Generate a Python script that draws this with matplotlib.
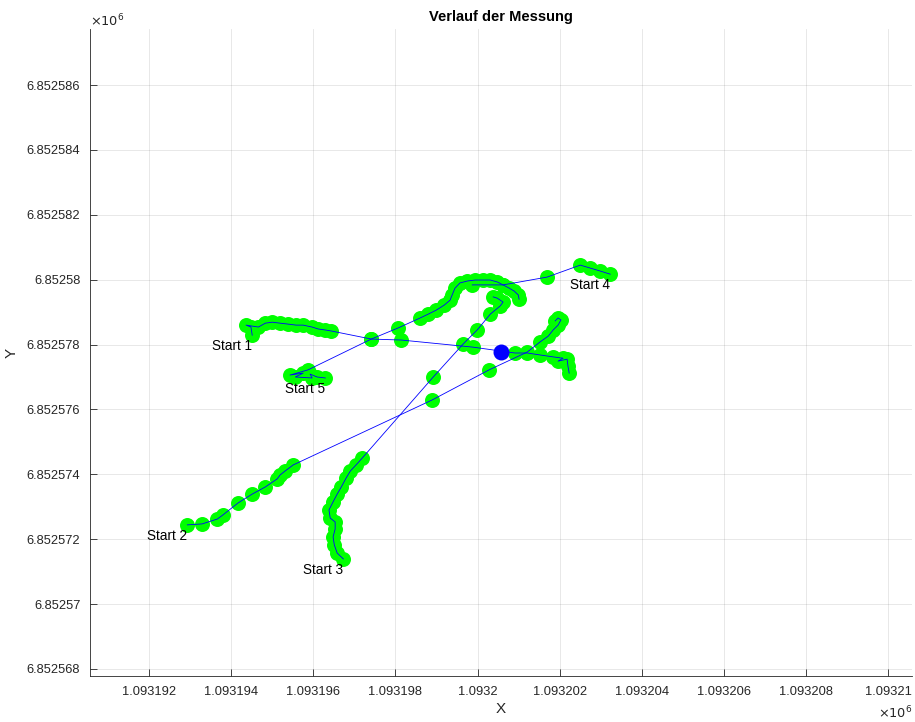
import numpy as np
import matplotlib.pyplot as plt
from matplotlib.ticker import FuncFormatter

plt.rcParams['font.family'] = ['Liberation Sans', 'DejaVu Sans']

# Bezugspunkt der lokalen Koordinaten (Meter)
X0 = 1093190.0
Y0 = 6852560.0

# Messfahrten, Koordinaten relativ zum Bezugspunkt in Metern
track1_x = [4.51, 4.48, 4.36, 4.66, 4.83, 5.00, 5.19, 5.39, 5.58, 5.75, 5.97, 6.12, 6.29,
            6.43, 7.41, 8.14, 9.89, 10.91, 11.21, 11.52, 11.84, 12.08, 11.96, 12.18, 12.20, 12.23]
track1_y = [18.29, 18.54, 18.60, 18.54, 18.66, 18.69, 18.66, 18.63, 18.60, 18.60, 18.54, 18.48, 18.45,
            18.42, 18.17, 18.14, 17.92, 17.74, 17.74, 17.68, 17.62, 17.58, 17.49, 17.55, 17.34, 17.12]

track2_x = [2.93, 3.29, 3.66, 3.80, 4.17, 4.51, 4.83, 5.12, 5.19, 5.31, 5.51, 8.89, 10.28,
            11.21, 11.52, 11.72, 11.84, 11.96, 12.03, 11.96, 11.89]
track2_y = [12.44, 12.47, 12.62, 12.75, 13.12, 13.39, 13.61, 13.86, 13.98, 14.10, 14.29, 16.29, 17.22,
            17.77, 18.08, 18.26, 18.45, 18.60, 18.76, 18.82, 18.73]

track3_x = [6.73, 6.58, 6.51, 6.48, 6.53, 6.53, 6.41, 6.38, 6.48, 6.58, 6.68, 6.80, 6.90, 7.04,
            7.19, 8.92, 9.65, 9.99, 10.31, 10.55, 10.62, 10.48, 10.38]
track3_y = [11.39, 11.57, 11.82, 12.07, 12.31, 12.53, 12.65, 12.90, 13.15, 13.39, 13.61, 13.89, 14.10, 14.29,
            14.50, 17.00, 18.02, 18.45, 18.94, 19.19, 19.31, 19.43, 19.47]

track4_x = [13.23, 12.98, 12.74, 12.50, 11.69, 10.62, 9.87]
track4_y = [20.17, 20.27, 20.36, 20.45, 20.08, 19.84, 19.84]

track5_x = [6.29, 6.09, 5.92, 5.97, 5.56, 5.75, 5.43, 5.87, 7.41, 8.06, 8.60, 8.80, 8.99, 9.19,
            9.33, 9.38, 9.45, 9.57, 9.75, 9.94, 10.13, 10.31, 10.48, 10.62, 10.77, 10.89, 10.99, 11.01]
track5_y = [16.97, 17.00, 17.09, 16.97, 17.00, 17.12, 17.06, 17.22, 18.17, 18.51, 18.82, 18.94, 19.06, 19.22,
            19.37, 19.53, 19.74, 19.90, 19.96, 19.99, 19.99, 19.99, 19.93, 19.84, 19.74, 19.65, 19.53, 19.40]

# Mittelwert aller Messungen
mean_x = 10.57
mean_y = 17.77

labels = ['Start 1', 'Start 2', 'Start 3', 'Start 4', 'Start 5']
tracks_x = [track1_x, track2_x, track3_x, track4_x, track5_x]
tracks_y = [track1_y, track2_y, track3_y, track4_y, track5_y]

fig = plt.figure(figsize=(9.15, 7.22), dpi=100)
ax = fig.add_axes([0.0984, 0.0637, 0.8983, 0.8961])

for tx, ty, name in zip(tracks_x, tracks_y, labels):
    x = X0 + np.array(tx)
    y = Y0 + np.array(ty)
    ax.plot(x, y, 'o', color=(0, 1, 0), markersize=10.8, markeredgewidth=0, zorder=2)
    ax.plot(x, y, '-', color='b', linewidth=0.6, zorder=3)
    ax.annotate(name, (x[0], y[0]), xytext=(0, -3), textcoords='offset points',
                ha='right', va='top', fontsize=9.8, color='k', zorder=5)

ax.plot(X0 + mean_x, Y0 + mean_y, 'o', color='b', markersize=11.5, markeredgewidth=0, zorder=4)

ax.set_xlim(1093190.56, 1093210.58)
ax.set_ylim(6852567.78, 6852587.73)
ax.set_xticks(np.arange(1093192, 1093211, 2))
ax.set_yticks(np.arange(6852568, 6852587, 2))

fmt = FuncFormatter(lambda v, p: f'{v / 1e6:.6f}'.rstrip('0').rstrip('.'))
ax.xaxis.set_major_formatter(fmt)
ax.yaxis.set_major_formatter(fmt)

ax.grid(True, color=(0.15, 0.15, 0.15), alpha=0.12, linewidth=0.6)
ax.set_axisbelow(True)
for side in ['top', 'right']:
    ax.spines[side].set_visible(False)
for side in ['left', 'bottom']:
    ax.spines[side].set_color((0.15, 0.15, 0.15))
    ax.spines[side].set_linewidth(0.6)
ax.tick_params(direction='in', length=5, width=0.6, color=(0.15, 0.15, 0.15),
               labelsize=9.3, labelcolor=(0.15, 0.15, 0.15), pad=7)

ax.text(0.0, 0.999, r'$\times10^{6}$', transform=ax.transAxes, ha='left', va='bottom',
        fontsize=9.3, color=(0.15, 0.15, 0.15))
ax.text(1.0, -0.045, r'$\times10^{6}$', transform=ax.transAxes, ha='right', va='top',
        fontsize=9.3, color=(0.15, 0.15, 0.15))

ax.set_title('Verlauf der Messung', fontsize=10.5, fontweight='bold', pad=6)
ax.set_xlabel('X', fontsize=11, color=(0.15, 0.15, 0.15), labelpad=3)
ax.set_ylabel('Y', fontsize=11, color=(0.15, 0.15, 0.15), labelpad=6)

fig.savefig('out.png', dpi=100)
